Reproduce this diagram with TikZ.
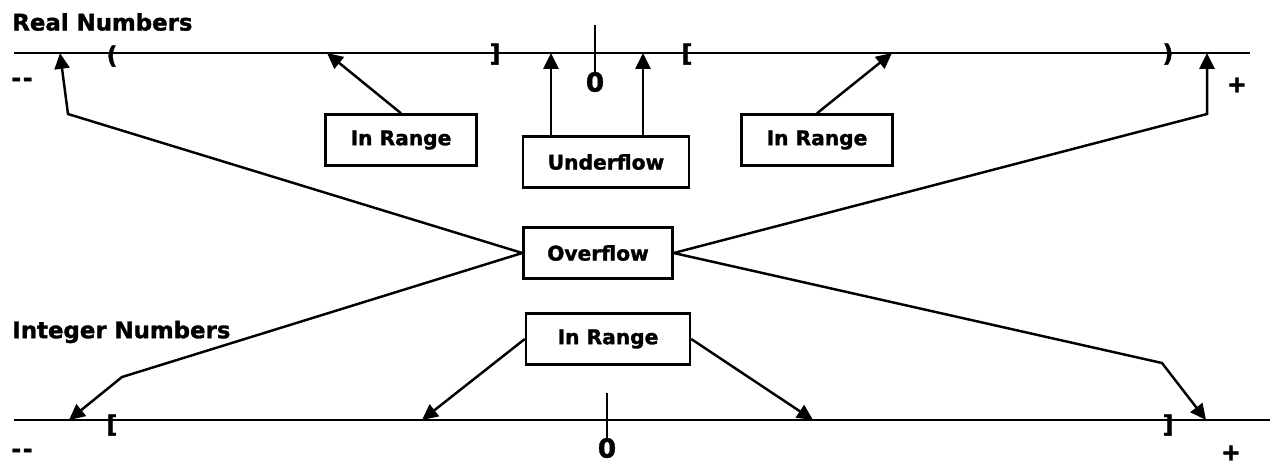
\documentclass[tikz,border=0pt]{standalone}
\usepackage{fontspec}
\setmainfont{DejaVu Sans}
\newfontfamily\heavy{DejaVu Sans Bold}[FakeBold=1.5]
\usetikzlibrary{arrows.meta}

\tikzset{
  axis/.style={line width=1.4pt},
  arr/.style={line width=1.4pt, -{Triangle[length=9pt,width=8.5pt]}},
  box/.style={draw, line width=1.4pt, minimum height=1.02cm,
    font=\fontsize{11.5}{13}\selectfont\heavy},
  lbl/.style={font=\fontsize{13.5}{15}\selectfont\heavy, inner sep=0pt},
  zero/.style={font=\fontsize{15}{17}\selectfont\heavy, inner sep=0pt},
  title/.style={font=\fontsize{13}{15}\selectfont\heavy, anchor=west, inner sep=0pt}
}

\begin{document}
\begin{tikzpicture}[x=0.02cm,y=-0.02cm]
\useasboundingbox (0,0) rectangle (1270,464);

% real numbers
\node[title] (rtitle) at (12,22) {Real Numbers};
\draw[axis] (14,53) -- (1250,53);
\node[zero] (rzero) at (595,82) {0};
\draw[axis] (595,25) -- (rzero.north);
\node[lbl] (rminus) at (22,82) {-\kern1pt-};
\node[lbl] (rplus) at (1237,85) {+};
\node[lbl] (rbr1) at (112,56) {(};
\node[lbl] (rbr2) at (495,54) {]};
\node[lbl] (rbr3) at (687,54) {[};
\node[lbl] (rbr4) at (1168,54) {)};
\coordinate (ro1) at (60,53);
\coordinate (ri1) at (327,53);
\coordinate (ru1) at (551,53);
\coordinate (ru2) at (643,53);
\coordinate (ri2) at (892,53);
\coordinate (ro2) at (1207,53);

% integer numbers
\node[title] (ititle) at (12,332) {Integer Numbers};
\draw[axis] (14,420) -- (1270,420);
\node[zero] (izero) at (607,448) {0};
\draw[axis] (607,393) -- (izero.north);
\node[lbl] (iminus) at (22,453) {-\kern1pt-};
\node[lbl] (iplus) at (1231,453) {+};
\node[lbl] (ibr1) at (112,425) {[};
\node[lbl] (ibr2) at (1168,425) {]};
\coordinate (io1) at (69,420);
\coordinate (ii1) at (422,420);
\coordinate (ii2) at (813,420);
\coordinate (io2) at (1206,420);

% boxes
\node[box, minimum width=3.02cm] (rin1) at (401,140) {In Range};
\node[box, minimum width=3.32cm] (uflow) at (606,162) {Underflow};
\node[box, minimum width=3.02cm] (rin2) at (817,140) {In Range};
\node[box, minimum width=2.98cm] (oflow) at (598,253) {Overflow};
\node[box, minimum width=3.28cm] (iin) at (608,339) {In Range};

% bends
\coordinate (bend1) at (68,114);
\coordinate (bend2) at (1207,114);
\coordinate (bend3) at (122,377);
\coordinate (bend4) at (1162,363);

\draw[arr] (rin1.north) -- (ri1);
\draw[arr] (uflow.north -| ru1) -- (ru1);
\draw[arr] (uflow.north -| ru2) -- (ru2);
\draw[arr] (rin2.north) -- (ri2);
\draw[arr] (oflow.west) -- (bend1) -- (ro1);
\draw[arr] (oflow.east) -- (bend2) -- (ro2);
\draw[arr] (oflow.west) -- (bend3) -- (io1);
\draw[arr] (oflow.east) -- (bend4) -- (io2);
\draw[arr] (iin.west) -- (ii1);
\draw[arr] (iin.east) -- (ii2);
\end{tikzpicture}
\end{document}
